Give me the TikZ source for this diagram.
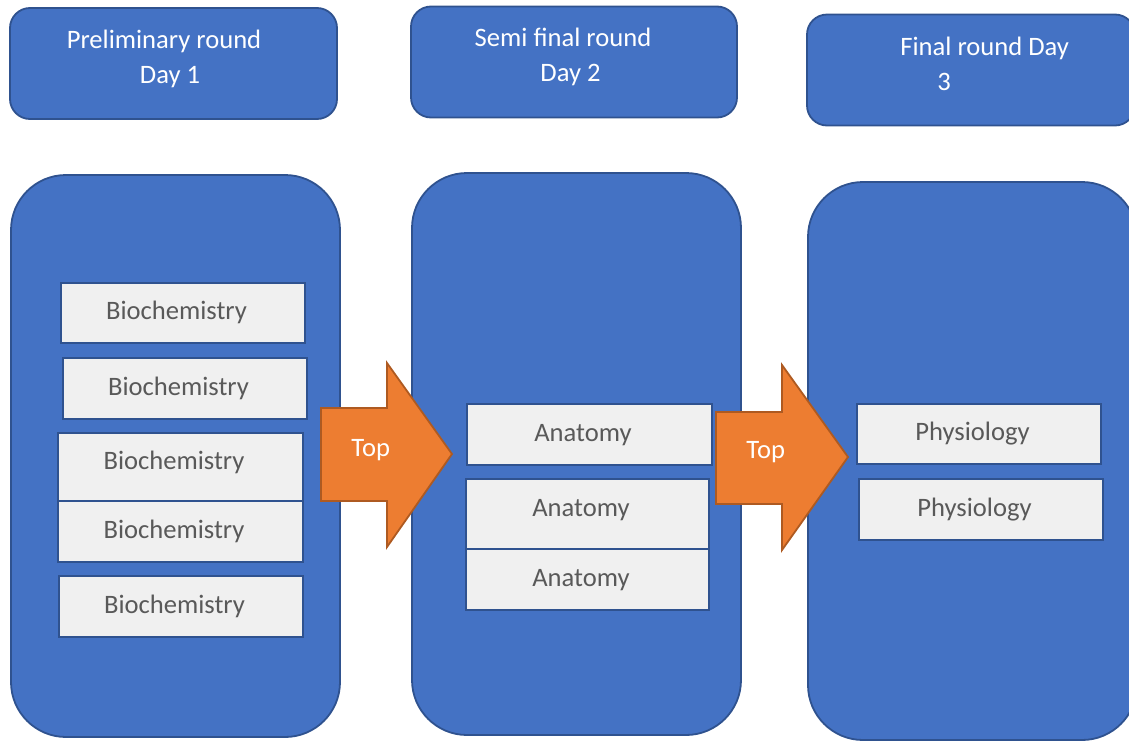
\documentclass[tikz,border=0pt]{standalone}
\usepackage{fontspec}
\setmainfont{Carlito}
\usepackage{tikz}
\definecolor{boxblue}{HTML}{4472C4}
\definecolor{edgeblue}{HTML}{2F528F}
\definecolor{toporange}{HTML}{ED7D31}
\definecolor{edgeorange}{HTML}{AE5A21}
\definecolor{boxgray}{HTML}{F0F0F0}
\definecolor{textgray}{HTML}{595959}

\begin{document}
\begin{tikzpicture}[x=1pt, y=-1pt, thick, font=\fontsize{26.6}{35}\selectfont]
      \tikzstyle{day node} = [draw=edgeblue, fill=boxblue, line width=1.8pt, rounded corners=20pt,
         inner sep=0pt, minimum width=327pt, minimum height=111pt]
      \tikzstyle{round node} = [draw=edgeblue, fill=boxblue, line width=1.8pt, rounded corners=55pt,
         inner sep=0pt, minimum width=329pt]
      \tikzstyle{title} = [text=white, inner sep=0pt]
      \tikzstyle{subject} = [draw=edgeblue, fill=boxgray, line width=1.8pt, text=textgray, inner sep=0pt,
         minimum width=244pt, minimum height=61pt, text height=18pt, text depth=5pt,
         execute at end node={\hspace*{13pt}}]
      \tikzstyle{tall} = [text depth=13.5pt]
      \tikzstyle{line} = [draw=edgeorange, fill=toporange, line width=1.8pt, line join=miter]
      \useasboundingbox (0,0) rectangle (1129,742);
      \clip (0,0) rectangle (1129,742);

      %days
      \node[day node]                     (day1) at (173.5,63.5) {};
      \node[day node, minimum width=326pt] (day2) at (574,62)    {};
      \node[day node, minimum width=328pt] (day3) at (971,70)    {};
      \node[title, align=center]          (day1 text) at (164,58.7) {Preliminary round\\\hspace*{12pt}Day 1};
      \node[title, align=center]          (day2 text) at (563,56.7) {Semi final round\\\hspace*{15pt}Day 2};
      \node[title, align=left, anchor=north west] (day3 text) at (900,37) {Final round Day\\\hspace*{37pt}3};

      %rounds
      \node[round node, minimum height=562pt] (prelim) at (175.5,456) {};
      \node[round node, minimum height=562pt] (semi)   at (576.5,454) {};
      \node[round node, minimum height=558pt] (final)  at (972.5,461) {};

      %lines
      \path[line] (321,408) -- (387,408) -- (387,363) -- (452,454) -- (387,547) -- (387,501) -- (321,501) -- cycle;
      \path[line] (716,412) -- (782,412) -- (782,365) -- (848,457) -- (782,550) -- (782,504) -- (716,504) -- cycle;
      \node[title, anchor=base west] (top1) at (351,456) {Top};
      \node[title, anchor=base west] (top2) at (746,458) {Top};

      %subjects
      \node[subject, minimum height=60pt]                      (bio1) at (183,313)     {Biochemistry};
      \node[subject]                                           (bio2) at (185,388.5)   {Biochemistry};
      \node[subject, tall, minimum width=245pt, minimum height=68pt] (bio3) at (180.5,467) {Biochemistry};
      \node[subject, minimum width=245pt]                      (bio4) at (180.5,531.5) {Biochemistry};
      \node[subject]                                           (bio5) at (181,606.5)   {Biochemistry};
      \node[subject, minimum width=245pt]                      (ana1) at (589.5,434.5) {Anatomy};
      \node[subject, tall, minimum width=243pt, minimum height=70pt] (ana2) at (587.5,514) {Anatomy};
      \node[subject, minimum width=243pt]                      (ana3) at (587.5,579.5) {Anatomy};
      \node[subject, minimum height=60pt]                      (phy1) at (979,434)     {Physiology};
      \node[subject]                                           (phy2) at (981,509.5)   {Physiology};
\end{tikzpicture}
\end{document}
